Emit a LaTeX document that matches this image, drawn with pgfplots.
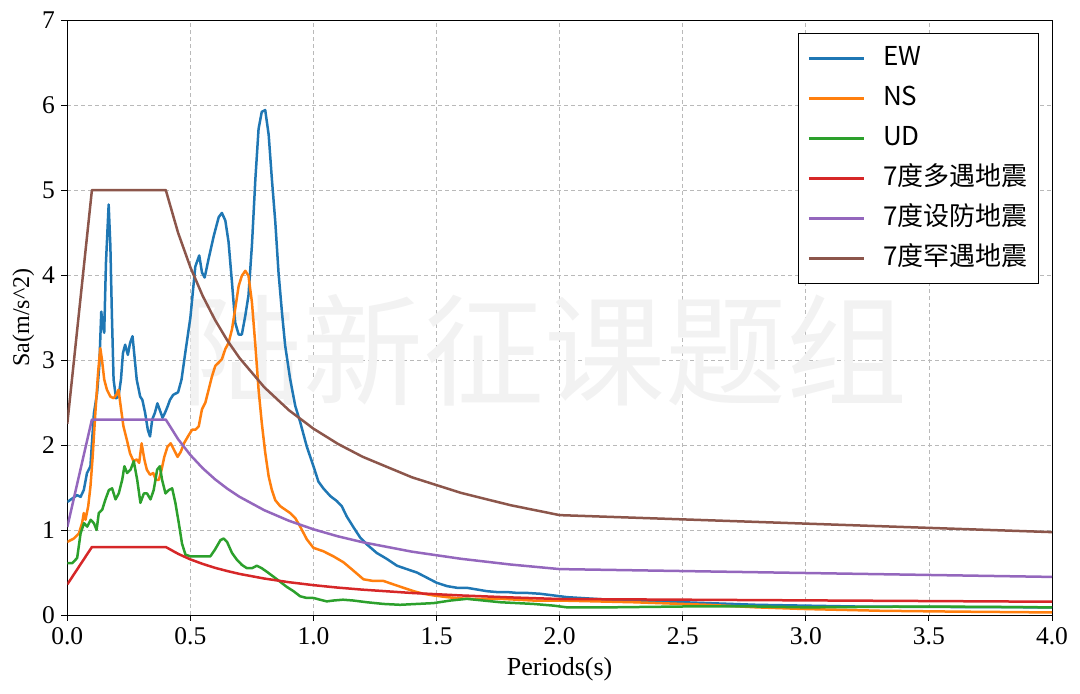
\documentclass[border=0pt]{standalone}
\usepackage{fontspec}
\setmainfont{Liberation Serif}
\newfontfamily\cjk{Noto Sans CJK SC}
\usepackage{pgfplots}
\pgfplotsset{compat=1.18}
\definecolor{cEW}{HTML}{1F77B4}
\definecolor{cNS}{HTML}{FF7F0E}
\definecolor{cUD}{HTML}{2CA02C}
\definecolor{cRed}{HTML}{D62728}
\definecolor{cPur}{HTML}{9467BD}
\definecolor{cBro}{HTML}{8C564B}
\begin{document}
\begin{tikzpicture}
\useasboundingbox (0,0) rectangle (1080pt,694pt);
\begin{axis}[
  at={(67.3pt,79pt)}, anchor=south west,
  scale only axis, width=984.7pt, height=595pt,
  xmin=0, xmax=4, ymin=0, ymax=7,
  xtick={0,0.5,1,1.5,2,2.5,3,3.5,4},
  xticklabels={0.0,0.5,1.0,1.5,2.0,2.5,3.0,3.5,4.0},
  ytick={0,1,2,3,4,5,6,7},
  yticklabels={0,1,2,3,4,5,6,7},
  xtick pos=bottom, ytick pos=left,
  tick align=outside, major tick length=6pt,
  tick style={black, line width=0.9pt},
  axis line style={black, line width=0.9pt},
  tick label style={font=\fontsize{25.5}{25.5}\selectfont},
  xticklabel style={yshift=-3pt},
  yticklabel style={xshift=-3pt},
  grid=major,
  major grid style={gray!55, line width=0.8pt, dash pattern=on 4pt off 3pt},
  xlabel={Periods(s)},
  ylabel={Sa(m/s\textasciicircum 2)},
  xlabel style={font=\fontsize{26}{26}\selectfont, at={(axis description cs:0.5,-0.092)}, anchor=center},
  ylabel style={font=\fontsize{24}{24}\selectfont, at={(axis description cs:-0.0447,0.5)}, anchor=center},
  every axis plot/.append style={line width=2.5pt, line join=round, mark=none},
  legend style={at={(0.987,0.978)}, anchor=north east, draw=black, line width=1.3pt,
    font=\cjk\fontsize{26}{26}\selectfont, row sep=14pt, inner xsep=9pt, inner ysep=12pt,
    nodes={inner ysep=0pt, text height=20pt, text depth=6pt},
    /tikz/every odd column/.append style={column sep=16pt}},
  legend cell align=left,
  legend image code/.code={\draw[#1, line width=2.5pt] (0pt,0pt) -- (55pt,0pt);},
]
\node[text=gray!10, font=\cjk\fontsize{121}{121}\selectfont] at (axis cs:1.94,3.12) {陆新征课题组};

\addplot[cEW] coordinates {
(0,1.33) (0.02,1.37) (0.04,1.41) (0.054,1.39) (0.067,1.47) (0.08,1.67) (0.094,1.75)
(0.108,2.37) (0.121,2.61) (0.13,2.93) (0.138,3.57) (0.144,3.40) (0.15,3.32) (0.157,4.14)
(0.168,4.83) (0.175,4.34) (0.181,3.55) (0.188,2.77) (0.198,2.55) (0.208,2.57) (0.218,2.77)
(0.226,3.08) (0.235,3.18) (0.246,3.06) (0.255,3.20) (0.265,3.28) (0.273,3.04) (0.282,2.77)
(0.296,2.57) (0.305,2.53) (0.316,2.38) (0.327,2.18) (0.336,2.10) (0.345,2.30) (0.356,2.38)
(0.366,2.49) (0.376,2.41) (0.387,2.32) (0.397,2.38) (0.407,2.45) (0.417,2.53) (0.43,2.59)
(0.45,2.62) (0.464,2.77) (0.48,3.1) (0.5,3.5) (0.52,4.1) (0.536,4.23) (0.547,4.03)
(0.558,3.97) (0.574,4.19) (0.595,4.46) (0.615,4.68) (0.628,4.73) (0.642,4.64) (0.655,4.39)
(0.669,3.91) (0.682,3.44) (0.696,3.30) (0.709,3.30) (0.723,3.52) (0.736,3.76) (0.75,4.35)
(0.764,5.13) (0.777,5.72) (0.79,5.92) (0.804,5.94) (0.818,5.65) (0.831,5.13) (0.845,4.62)
(0.858,4.03) (0.872,3.56) (0.885,3.17) (0.905,2.78) (0.926,2.46) (0.946,2.27) (0.973,1.98)
(1.0,1.75) (1.02,1.57) (1.04,1.49) (1.068,1.40) (1.095,1.34) (1.115,1.28) (1.135,1.16)
(1.163,1.03) (1.19,0.91) (1.217,0.83) (1.257,0.73) (1.298,0.66) (1.339,0.58) (1.379,0.54)
(1.42,0.50) (1.46,0.44) (1.50,0.38) (1.542,0.34) (1.583,0.32) (1.623,0.32) (1.664,0.30)
(1.705,0.28) (1.745,0.27) (1.786,0.27) (1.827,0.26) (1.867,0.26) (1.92,0.25) (1.976,0.23)
(2.03,0.21) (2.2,0.18) (2.4,0.16) (2.6,0.14) (2.8,0.12) (3.0,0.11) (3.2,0.10) (3.5,0.095) (4.0,0.09)
};
\addlegendentry{EW}

\addplot[cNS] coordinates {
(0,0.86) (0.027,0.90) (0.047,0.96) (0.06,1.08) (0.067,1.20) (0.074,1.12) (0.085,1.28)
(0.094,1.51) (0.103,1.86) (0.114,2.38) (0.125,2.85) (0.134,3.14) (0.141,3.00) (0.15,2.77)
(0.161,2.65) (0.175,2.57) (0.188,2.55) (0.199,2.59) (0.208,2.65) (0.219,2.41) (0.228,2.22)
(0.242,2.06) (0.255,1.90) (0.269,1.81) (0.282,1.83) (0.292,1.79) (0.302,2.02) (0.313,1.83)
(0.323,1.71) (0.336,1.65) (0.349,1.67) (0.36,1.59) (0.372,1.59) (0.383,1.71) (0.394,1.86)
(0.407,1.98) (0.42,2.02) (0.434,1.94) (0.448,1.86) (0.461,1.92) (0.474,2.02) (0.49,2.10)
(0.507,2.18) (0.52,2.18) (0.534,2.22) (0.547,2.42) (0.561,2.50) (0.574,2.65) (0.588,2.81)
(0.601,2.93) (0.615,2.97) (0.628,3.01) (0.642,3.13) (0.655,3.20) (0.669,3.36) (0.682,3.60)
(0.696,3.87) (0.709,3.99) (0.723,4.05) (0.736,3.99) (0.75,3.68) (0.764,3.17) (0.777,2.65)
(0.79,2.26) (0.804,1.91) (0.818,1.63) (0.831,1.47) (0.845,1.35) (0.865,1.28) (0.885,1.24)
(0.905,1.20) (0.926,1.14) (0.946,1.04) (0.973,0.89) (1.0,0.79) (1.04,0.75) (1.081,0.69)
(1.122,0.62) (1.163,0.52) (1.203,0.42) (1.244,0.40) (1.285,0.40) (1.325,0.36) (1.366,0.32)
(1.407,0.28) (1.447,0.25) (1.488,0.23) (1.542,0.21) (1.596,0.195) (1.65,0.19) (1.76,0.19)
(1.827,0.18) (1.894,0.17) (2.0,0.17) (2.3,0.15) (2.6,0.12) (2.8,0.09) (3.0,0.07) (3.3,0.05)
(3.6,0.04) (4.0,0.03)
};
\addlegendentry{NS}

\addplot[cUD] coordinates {
(0,0.61) (0.02,0.61) (0.04,0.67) (0.054,0.96) (0.068,1.08) (0.081,1.04) (0.095,1.12)
(0.108,1.08) (0.119,1.0) (0.128,1.20) (0.142,1.24) (0.155,1.36) (0.169,1.47) (0.182,1.49)
(0.196,1.36) (0.209,1.43) (0.223,1.59) (0.232,1.75) (0.243,1.67) (0.257,1.71) (0.27,1.81)
(0.284,1.59) (0.297,1.32) (0.311,1.43) (0.324,1.43) (0.338,1.36) (0.351,1.47) (0.365,1.71)
(0.376,1.75) (0.385,1.59) (0.399,1.43) (0.412,1.47) (0.426,1.49) (0.439,1.32) (0.453,1.08)
(0.466,0.84) (0.48,0.71) (0.5,0.69) (0.54,0.69) (0.581,0.69) (0.60,0.77) (0.622,0.88)
(0.635,0.90) (0.649,0.86) (0.669,0.73) (0.689,0.65) (0.709,0.59) (0.73,0.55) (0.75,0.55)
(0.77,0.58) (0.79,0.55) (0.81,0.51) (0.838,0.45) (0.865,0.39) (0.892,0.33) (0.919,0.28)
(0.946,0.22) (0.973,0.20) (1.0,0.20) (1.027,0.18) (1.054,0.16) (1.08,0.17) (1.12,0.18)
(1.163,0.17) (1.217,0.15) (1.285,0.13) (1.352,0.12) (1.42,0.13) (1.488,0.14) (1.556,0.17)
(1.623,0.19) (1.691,0.17) (1.759,0.15) (1.827,0.14) (1.894,0.13) (1.976,0.11) (2.03,0.09)
(2.2,0.09) (2.5,0.10) (2.8,0.10) (3.0,0.09) (3.5,0.10) (4.0,0.09)
};
\addlegendentry{UD}

\addplot[cRed] coordinates {
(0,0.36) (0.1,0.8) (0.4,0.8) (0.45,0.720) (0.5,0.654) (0.55,0.601) (0.6,0.555) (0.65,0.517)
(0.7,0.483) (0.8,0.429) (0.9,0.386) (1.0,0.351) (1.1,0.322) (1.2,0.298) (1.4,0.259)
(1.6,0.230) (1.8,0.207) (2.0,0.188) (4.0,0.156)
};
\addlegendentry{7度多遇地震}

\addplot[cPur] coordinates {
(0,1.035) (0.1,2.3) (0.4,2.3) (0.45,2.069) (0.5,1.882) (0.55,1.727) (0.6,1.597) (0.65,1.486)
(0.7,1.390) (0.8,1.233) (0.9,1.109) (1.0,1.008) (1.1,0.925) (1.2,0.856) (1.4,0.745)
(1.6,0.661) (1.8,0.594) (2.0,0.540) (4.0,0.448)
};
\addlegendentry{7度设防地震}

\addplot[cBro] coordinates {
(0,2.25) (0.1,5.0) (0.4,5.0) (0.45,4.497) (0.5,4.091) (0.55,3.754) (0.6,3.472) (0.65,3.230)
(0.7,3.022) (0.8,2.680) (0.9,2.410) (1.0,2.192) (1.1,2.012) (1.2,1.861) (1.4,1.620)
(1.6,1.436) (1.8,1.292) (2.0,1.175) (4.0,0.975)
};
\addlegendentry{7度罕遇地震}
\end{axis}
\end{tikzpicture}
\end{document}
